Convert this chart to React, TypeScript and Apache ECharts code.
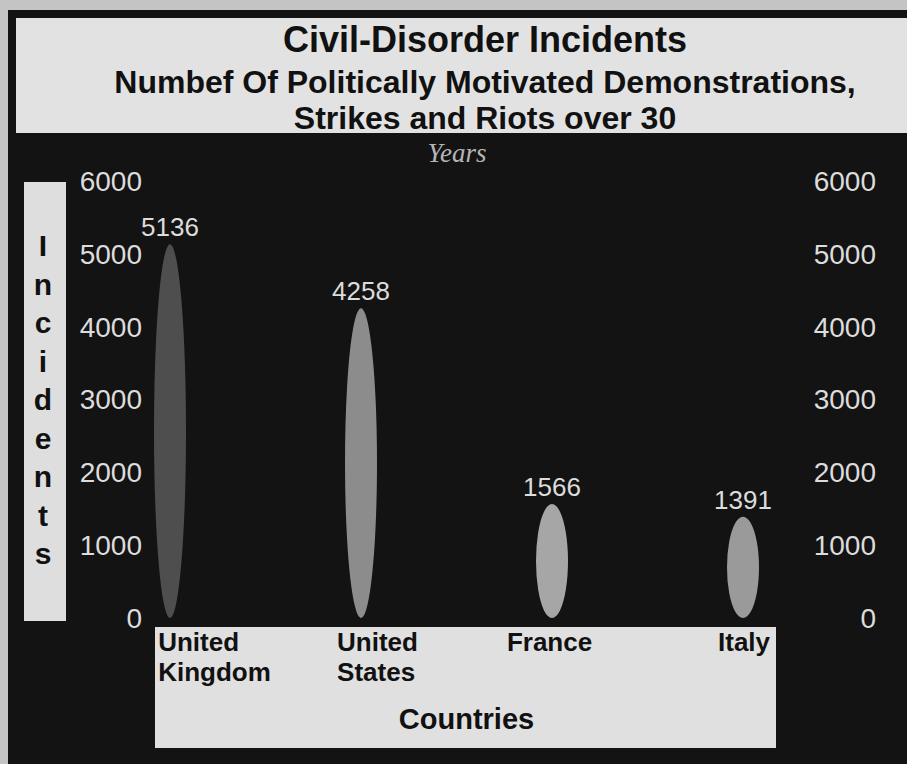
import React, { useEffect, useRef } from "react";
import * as echarts from "echarts";

const categories = ["United Kingdom", "United States", "France", "Italy"];
const incidents = [5136, 4258, 1566, 1391];
const yMin = 0;
const yMax = 6000;
const yStep = 1000;

const titleText = "Civil-Disorder Incidents";
const subtitleText = "Numbef Of Politically Motivated Demonstrations,\nStrikes and Riots over 30";
const yearsText = "Years";
const yAxisName = "Incidents";
const xAxisName = "Countries";

// styles (not data)
const barColors = ["#4e4e4e", "#8c8c8c", "#a6a6a6", "#9a9a9a"];
const labelPadLeft = [89, 33, 0, 2];
const labelPadRight = [0, 0, 5, 0];
const SANS = "'Liberation Sans', Arial, Helvetica, sans-serif";
const SERIF = "'Liberation Serif', 'Times New Roman', serif";

export default function App() {
  const ref = useRef<HTMLDivElement>(null);
  useEffect(() => {
    document.body.style.margin = "0";
    const chart = echarts.init(ref.current!, null, { renderer: "svg" });
    const rich: Record<string, any> = {};
    categories.forEach((_, i) => {
      rich["c" + i] = {
        fontFamily: SANS,
        fontSize: 26,
        fontWeight: "bold",
        color: "#111",
        lineHeight: 30,
        align: "left",
        padding: [0, labelPadRight[i], 0, labelPadLeft[i]],
      };
    });
    const option: any = {
      animation: false,
      backgroundColor: "#c4c4c4",
      title: {
        text: titleText,
        subtext: subtitleText,
        left: 485,
        top: 19,
        textAlign: "center",
        padding: 0,
        itemGap: 5,
        textStyle: {
          fontFamily: SANS,
          fontSize: 36,
          fontWeight: "bold",
          color: "#111",
          lineHeight: 40,
        },
        subtextStyle: {
          fontFamily: SANS,
          fontSize: 32,
          fontWeight: "bold",
          color: "#111",
          lineHeight: 36,
        },
      },
      graphic: [
        { type: "rect", z: -10, shape: { x: 8, y: 10, width: 899, height: 754 }, style: { fill: "#131313" } },
        { type: "rect", z: -9, shape: { x: 16, y: 18, width: 891, height: 115 }, style: { fill: "#e2e2e2" } },
        { type: "rect", z: -9, shape: { x: 24, y: 182, width: 42, height: 439 }, style: { fill: "#dedede" } },
        { type: "rect", z: -9, shape: { x: 155, y: 627, width: 621, height: 121 }, style: { fill: "#e0e0e0" } },
        {
          type: "text",
          z: 5,
          x: 457,
          y: 153,
          style: {
            text: yearsText,
            fontFamily: SERIF,
            fontStyle: "italic",
            fontSize: 27,
            fill: "#b5b5b5",
            align: "center",
            verticalAlign: "middle",
          },
        },
      ],
      grid: { left: 170, right: 164, top: 181.5, bottom: 146 },
      xAxis: {
        type: "category",
        data: categories,
        boundaryGap: false,
        axisLine: { show: false },
        axisTick: { show: false },
        splitLine: { show: false },
        axisLabel: {
          margin: 9,
          align: "center",
          verticalAlign: "top",
          formatter: (v: string, i: number) =>
            v
              .split(" ")
              .map((s) => `{c${i}|${s}}`)
              .join("\n"),
          rich,
        },
        name: xAxisName,
        nameLocation: "middle",
        nameGap: 86,
        nameTextStyle: {
          fontFamily: SANS,
          fontSize: 29,
          fontWeight: "bold",
          color: "#111",
          padding: [0, 0, 0, 20],
        },
      },
      yAxis: [
        {
          type: "value",
          min: yMin,
          max: yMax,
          interval: yStep,
          position: "left",
          axisLine: { show: false },
          axisTick: { show: false },
          splitLine: { show: false },
          axisLabel: {
            margin: 28,
            color: "#dcdcdc",
            fontFamily: SANS,
            fontSize: 28,
            formatter: (v: number) => String(v),
          },
          name: yAxisName.split("").join("\n"),
          nameLocation: "middle",
          nameRotate: 0,
          nameGap: 127,
          nameTextStyle: {
            fontFamily: SANS,
            fontSize: 30,
            fontWeight: "bold",
            color: "#111",
            lineHeight: 38.5,
            align: "center",
            verticalAlign: "middle",
          },
        },
        {
          type: "value",
          min: yMin,
          max: yMax,
          interval: yStep,
          position: "right",
          axisLine: { show: false },
          axisTick: { show: false },
          splitLine: { show: false },
          axisLabel: {
            margin: 133,
            align: "right",
            color: "#dcdcdc",
            fontFamily: SANS,
            fontSize: 28,
            formatter: (v: number) => String(v),
          },
        },
      ],
      series: [
        {
          type: "pictorialBar",
          yAxisIndex: 0,
          symbol: "circle",
          symbolSize: [32, "100%"],
          symbolRepeat: false,
          data: incidents.map((v, i) => ({ value: v, itemStyle: { color: barColors[i] } })),
          label: {
            show: true,
            position: "top",
            distance: 4,
            color: "#dcdcdc",
            fontFamily: SANS,
            fontSize: 26,
          },
        },
      ],
    };
    chart.setOption(option);
    return () => chart.dispose();
  }, []);
  return <div ref={ref} style={{ width: 907, height: 764 }} />;
}
